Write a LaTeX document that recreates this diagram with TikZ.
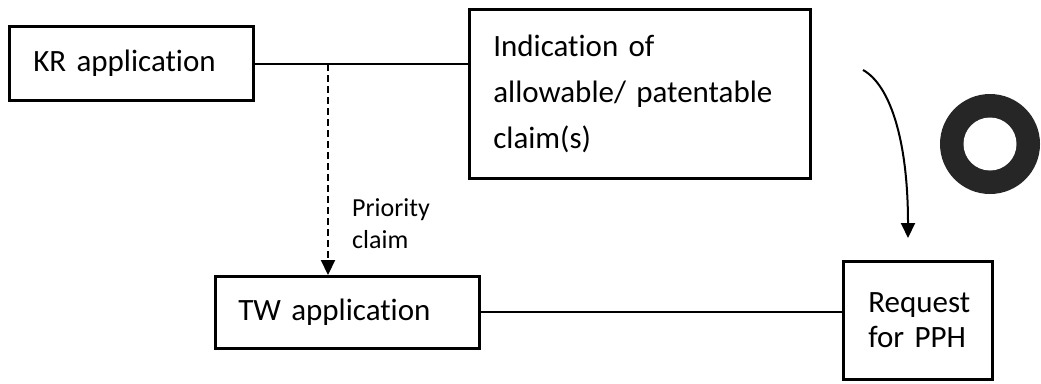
\documentclass[tikz,border=0pt]{standalone}
\usepackage{fontspec}
\setmainfont[Ligatures=NoCommon]{Carlito}
\usetikzlibrary{arrows.meta}
\tikzset{
  box/.style={draw, line width=2.6pt, inner ysep=0pt, align=left, anchor=north west, font=\fontsize{31}{46}\selectfont},
  conn/.style={line width=1.8pt},
  dashconn/.style={line width=2.2pt, dash pattern=on 7pt off 4pt},
  tip/.style={-{Triangle[width=14pt,length=15pt]}},
}
\begin{document}
\begin{tikzpicture}[x=1pt,y=-1pt]
\useasboundingbox (0,0) rectangle (1041,383);
\node[box, inner xsep=24pt, text width=196pt, minimum height=74pt] (kr) at (8,25) {KR application};
\node[box, inner xsep=24pt, text width=293pt, minimum height=169pt] (ind) at (468,8) {Indication of\\allowable/ patentable\\claim(s)};
\node[box, inner xsep=23pt, text width=218pt, minimum height=72pt] (tw) at (214,275) {TW application};
\node[box, inner xsep=25pt, text width=99pt, minimum height=118pt, font=\fontsize{31}{35}\selectfont] (req) at (842,260) {Request\\for PPH};
\node[anchor=west, inner sep=0pt, align=left, font=\fontsize{26}{32}\selectfont] (pc) at (352,224) {Priority\\claim};
\coordinate (j) at (328,64);
\draw[conn] (kr.east |- j) -- (ind.west |- j);
\draw[conn] (tw.east) -- (tw.east -| req.west);
\draw[dashconn, tip] (j) -- (j |- tw.north);
\coordinate (as) at (863,70);
\coordinate (ae) at (908,238);
\draw[conn, line width=2pt, tip] (as) .. controls (890,85) and (908,140) .. (ae);
\node[circle, inner sep=0pt, minimum size=100pt, fill=black!85] (ring) at (990,144) {};
\node[circle, inner sep=0pt, minimum size=53pt, fill=white] (hole) at (ring.center) {};
\end{tikzpicture}
\end{document}
